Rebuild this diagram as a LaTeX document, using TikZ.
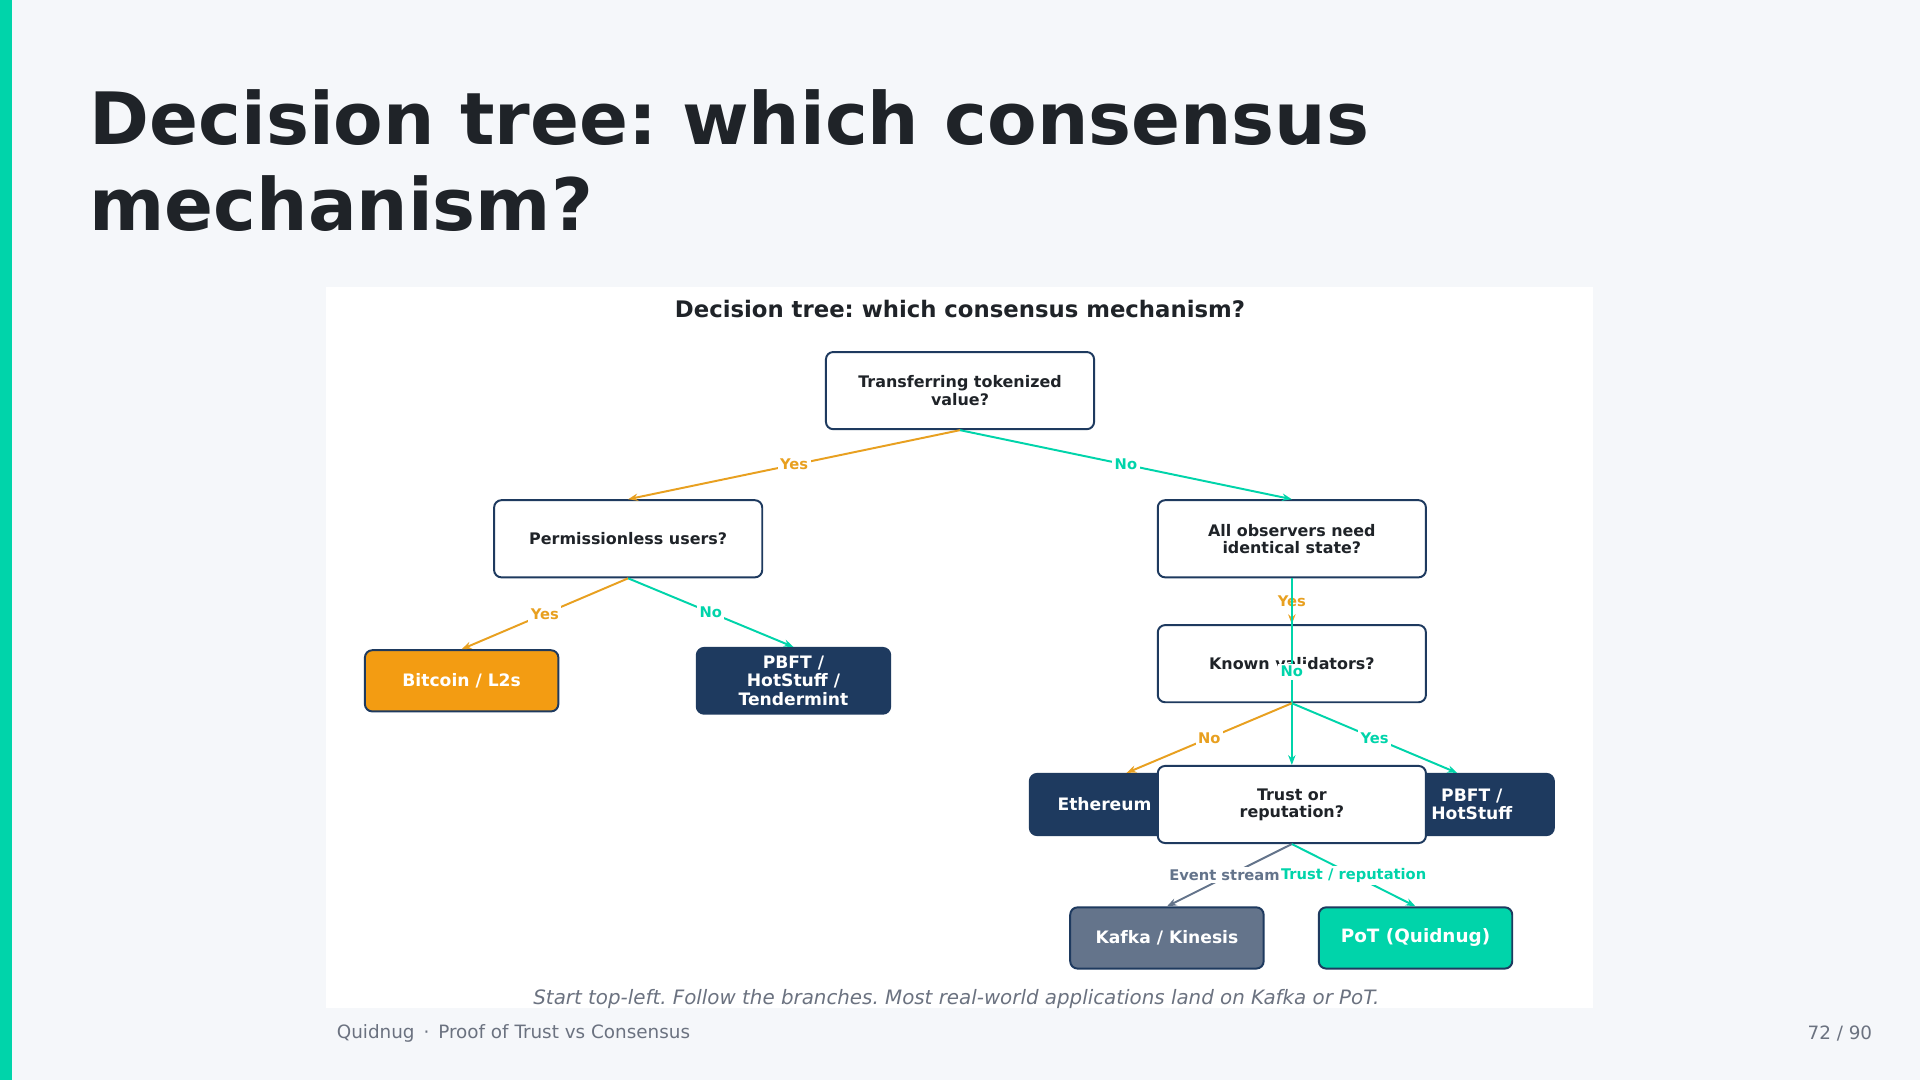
\documentclass[tikz,border=0pt]{standalone}
\usepackage{fontspec}
\setmainfont{DejaVu Sans}
\frenchspacing
\usetikzlibrary{positioning, arrows.meta}
\definecolor{pagebg}{HTML}{F5F7FA}
\definecolor{accent}{HTML}{00D4AA}
\definecolor{navy}{HTML}{1E3A5F}
\definecolor{ink}{HTML}{1F2328}
\definecolor{amber}{HTML}{F39C12}
\definecolor{edgeyes}{HTML}{E8A020}
\definecolor{slate}{HTML}{64748B}
\definecolor{muted}{HTML}{6B7280}
\tikzset{
    >={Stealth[length=4pt]}, % small arrowheads
    question/.style={draw=navy, thick, fill=white, rounded corners=3pt, align=center,
        minimum width=109.5pt, minimum height=31.5pt, font=\fontsize{6.5}{7}\selectfont\bfseries, text=ink},
    leaf/.style={draw=navy, thick, rounded corners=3pt, align=center, text=white,
        minimum width=79pt, minimum height=25pt, font=\fontsize{7}{7.5}\selectfont\bfseries},
    yes/.style={->, edgeyes, thick},
    no/.style={->, accent, thick},
    lbl/.style={font=\fontsize{6}{6}\selectfont\bfseries, fill=white, inner sep=1pt},
}
\begin{document}
\begin{tikzpicture}[x=0.5pt, y=-0.5pt]
    \useasboundingbox (0,0) rectangle (1568,882);
    \fill[pagebg] (0,0) rectangle (1568,882);
    \fill[accent] (0,0) rectangle (10,882);
    \node[anchor=base west, font=\fontsize{29.5}{30}\selectfont\bfseries, text=ink] (title1) at (66,118) {Decision tree: which consensus};
    \node[anchor=base west, font=\fontsize{29.5}{30}\selectfont\bfseries, text=ink] (title2) at (66,188) {mechanism?};
    \fill[white] (266,234) rectangle (1301,823);
    \node[font=\fontsize{9.3}{9.3}\selectfont\bfseries, text=ink] (head) at (784,252) {Decision tree: which consensus mechanism?};

    % leaves
    \node[leaf, fill=amber] (btc) at (377,556) {Bitcoin / L2s};
    \node[leaf, fill=navy] (pbft) at (648,556) {PBFT /\\HotStuff /\\Tendermint};
    \node[leaf, fill=navy] (eth) at (920,657) {Ethereum\hspace*{18pt}};
    \node[leaf, fill=navy] (pbft2) at (1190,657) {\hspace*{12pt}PBFT /\\\hspace*{12pt}HotStuff};
    \node[leaf, fill=slate] (kafka) at (953,766) {Kafka / Kinesis};
    \node[leaf, fill=accent, font=\fontsize{7.5}{8}\selectfont\bfseries] (pot) at (1156,766) {PoT (Quidnug)};

    % questions
    \node[question] (q0) at (784,319) {Transferring tokenized\\value?};
    \node[question] (q1) at (513,440) {Permissionless users?};
    \node[question] (q2) at (1055,440) {All observers need\\identical state?};
    \node[question] (q3) at (1055,542) {Known validators?};
    \node[question] (q4) at (1055,657) {Trust or\\reputation?};

    \draw[yes] (q0.south) -- node[lbl, text=edgeyes] {Yes} (q1.north);
    \draw[no] (q0.south) -- node[lbl, text=accent] {No} (q2.north);
    \draw[yes] (q1.south) -- node[lbl, text=edgeyes] {Yes} (btc.north);
    \draw[no] (q1.south) -- node[lbl, text=accent] {No} (pbft.north);
    \draw[yes] (q2.south) -- node[lbl, text=edgeyes] {Yes} (q3.north);
    \draw[no] (q2.south) -- node[lbl, text=accent, pos=0.5] {No} (q4.north);
    \draw[yes] (q3.south) -- node[lbl, text=edgeyes] {No} (eth.north);
    \draw[no] (q3.south) -- node[lbl, text=accent] {Yes} (pbft2.north);
    \draw[->, slate, thick] (q4.south) -- node[lbl, text=slate, pos=0.5, xshift=-2pt] {Event stream} (kafka.north);
    \draw[no] (q4.south) -- node[lbl, text=accent, pos=0.5, xshift=0pt] {Trust / reputation} (pot.north);

    \node[font=\fontsize{8.1}{8.5}\selectfont\itshape, text=muted] (cap) at (781,816) {Start top-left. Follow the branches. Most real-world applications land on Kafka or PoT.};
    \node[anchor=west, font=\fontsize{7.5}{7.5}\selectfont, text=muted] (foot) at (268,844) {Quidnug \,·\, Proof of Trust vs Consensus};
    \node[anchor=east, font=\fontsize{7.5}{7.5}\selectfont, text=muted] (page) at (1536,844) {72 / 90};
\end{tikzpicture}
\end{document}
